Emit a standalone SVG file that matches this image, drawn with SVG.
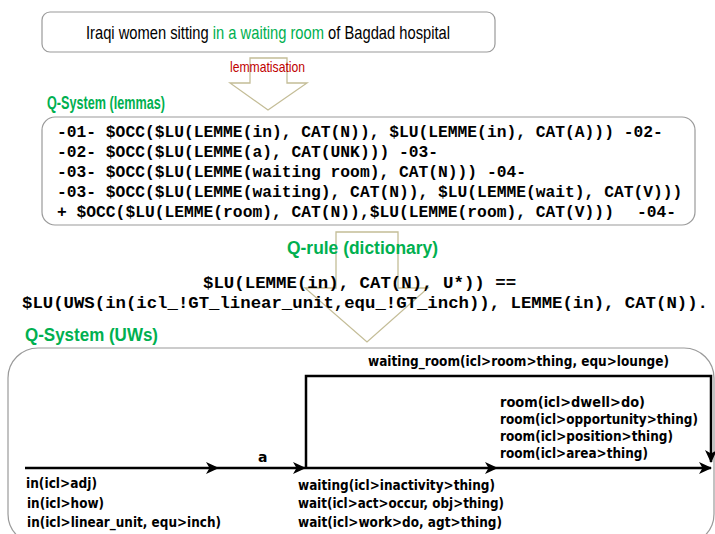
<svg xmlns="http://www.w3.org/2000/svg" width="715" height="534" viewBox="0 0 715 534">
<style>
.box{fill:#fff;stroke:#9a9a9a;stroke-width:1.2}
.hollow{fill:none;stroke:#c4bd97;stroke-width:1.3}
.title{font-family:"Liberation Sans",Arial,sans-serif;font-size:19px;fill:#000}
.green{fill:#00b050}
.head{font-family:"Liberation Sans",Arial,sans-serif;font-weight:bold;font-size:17.5px;fill:#00b050}
.red{font-family:"Liberation Sans",Arial,sans-serif;font-size:15px;fill:#c00000}
.code{font-family:"Liberation Mono","Courier New",monospace;font-weight:bold;font-size:16.3px;fill:#000;white-space:pre}
.rule{font-family:"Liberation Mono","Courier New",monospace;font-weight:bold;font-size:17.4px;fill:#000;white-space:pre}
.uw{font-family:"DejaVu Sans",sans-serif;font-weight:bold;font-size:14px;fill:#000}
.edge{fill:none;stroke:#000;stroke-width:2.5}
</style>
<defs>
<marker id="arr" markerUnits="userSpaceOnUse" markerWidth="14" markerHeight="14" refX="12" refY="7" orient="auto">
<path d="M0,1 L13,7 L0,13 L3.5,7 z" fill="#000"/>
</marker>
</defs>

<g id="hollow-arrows">
<polygon class="hollow" points="250,58 287,58 287,83 307,83 268,110 230,83 250,83"/>
<polygon class="hollow" points="336,232 398,232 398,288 428,288 367,342 305,288 336,288"/>
</g>

<g id="sentence">
<rect class="box" x="42" y="12" width="453" height="40" rx="8"/>
<text class="title" x="86" y="39" textLength="364" lengthAdjust="spacingAndGlyphs">Iraqi women sitting <tspan class="green">in a waiting room</tspan> of Bagdad hospital</text>
</g>

<g id="lemmatisation">
<text class="red" x="230" y="72" textLength="75" lengthAdjust="spacingAndGlyphs">lemmatisation</text>
</g>

<g id="qsystem-lemmas">
<text class="head" x="47" y="109" textLength="118" lengthAdjust="spacingAndGlyphs">Q-System (lemmas)</text>
<rect class="box" x="42" y="117" width="653" height="108" rx="13"/>
<text class="code" x="57" y="137">-01- $OCC($LU(LEMME(in), CAT(N)), $LU(LEMME(in), CAT(A))) -02-</text>
<text class="code" x="57" y="157">-02- $OCC($LU(LEMME(a), CAT(UNK))) -03-</text>
<text class="code" x="57" y="177">-03- $OCC($LU(LEMME(waiting room), CAT(N))) -04-</text>
<text class="code" x="57" y="197">-03- $OCC($LU(LEMME(waiting), CAT(N)), $LU(LEMME(wait), CAT(V)))</text>
<text class="code" x="57" y="217">+ $OCC($LU(LEMME(room), CAT(N)),$LU(LEMME(room), CAT(V)))<tspan x="637">-04-</tspan></text>
</g>

<g id="qrule">
<text class="head" x="287" y="254" textLength="151" lengthAdjust="spacingAndGlyphs">Q-rule (dictionary)</text>
<text class="rule" x="203" y="288">$LU(LEMME(in), CAT(N), U*)) ==</text>
<text class="rule" x="22" y="308" textLength="686" lengthAdjust="spacingAndGlyphs">$LU(UWS(in(icl_!GT_linear_unit,equ_!GT_inch)), LEMME(in), CAT(N)).</text>
</g>

<g id="qsystem-uws">
<text class="head" x="25" y="341" textLength="133" lengthAdjust="spacingAndGlyphs">Q-System (UWs)</text>
<rect class="box" x="8" y="348" width="706" height="196" rx="30"/>
</g>

<g id="connectors">
<line class="edge" x1="25" y1="468" x2="218" y2="468" marker-end="url(#arr)"/>
<line class="edge" x1="218" y1="468" x2="305" y2="468" marker-end="url(#arr)"/>
<line class="edge" x1="305" y1="468" x2="497" y2="468" marker-end="url(#arr)"/>
<line class="edge" x1="497" y1="468" x2="711" y2="468" marker-end="url(#arr)"/>
<polyline class="edge" points="306,468 306,376 711,376 711,462" marker-end="url(#arr)"/>
</g>

<g id="edge-labels">
<text class="uw" x="368" y="366" textLength="301" lengthAdjust="spacingAndGlyphs">waiting_room(icl&gt;room&gt;thing, equ&gt;lounge)</text>
<text class="uw" x="258" y="462">a</text>
<text class="uw" x="500" y="407" textLength="145" lengthAdjust="spacingAndGlyphs">room(icl&gt;dwell&gt;do)</text>
<text class="uw" x="500" y="424" textLength="198" lengthAdjust="spacingAndGlyphs">room(icl&gt;opportunity&gt;thing)</text>
<text class="uw" x="500" y="441" textLength="173" lengthAdjust="spacingAndGlyphs">room(icl&gt;position&gt;thing)</text>
<text class="uw" x="500" y="458" textLength="148" lengthAdjust="spacingAndGlyphs">room(icl&gt;area&gt;thing)</text>
<text class="uw" x="26" y="488" textLength="71" lengthAdjust="spacingAndGlyphs">in(icl&gt;adj)</text>
<text class="uw" x="27" y="508" textLength="77" lengthAdjust="spacingAndGlyphs">in(icl&gt;how)</text>
<text class="uw" x="27" y="527" textLength="194" lengthAdjust="spacingAndGlyphs">in(icl&gt;linear_unit, equ&gt;inch)</text>
<text class="uw" x="298" y="490" textLength="197" lengthAdjust="spacingAndGlyphs">waiting(icl&gt;inactivity&gt;thing)</text>
<text class="uw" x="298" y="508" textLength="206" lengthAdjust="spacingAndGlyphs">wait(icl&gt;act&gt;occur, obj&gt;thing)</text>
<text class="uw" x="298" y="527" textLength="204" lengthAdjust="spacingAndGlyphs">wait(icl&gt;work&gt;do, agt&gt;thing)</text>
</g>
</svg>
